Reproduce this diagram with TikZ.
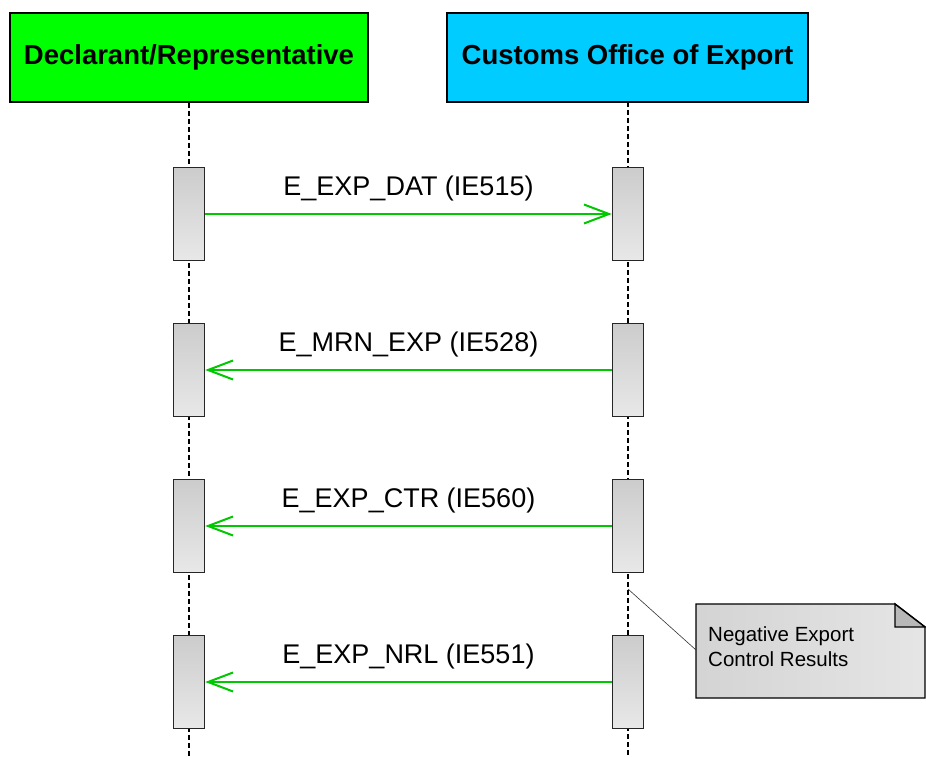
\documentclass[tikz,border=0pt]{standalone}
\usepackage{fontspec}
\setmainfont{Liberation Sans}
\usetikzlibrary{arrows.meta}

\definecolor{actorgreen}{RGB}{0,255,0}
\definecolor{actorcyan}{RGB}{0,204,255}
\definecolor{msggreen}{RGB}{0,200,0}

\tikzset{
  actor/.style={draw=black, line width=1.5pt, minimum height=89pt, inner sep=0pt,
    font=\bfseries\fontsize{27.5}{31}\selectfont},
  actbar/.style={draw=black!85, line width=1.4pt, minimum width=31pt, minimum height=93pt,
    inner sep=0pt, top color=black!20, bottom color=black!9},
  msg/.style={draw=msggreen, line width=2pt, -{Straight Barb[length=25pt,width=19pt]}},
  msglabel/.style={midway, anchor=base, yshift=19pt, inner sep=0pt, text=black,
    font=\fontsize{27}{31}\selectfont},
  lifeline/.style={line width=1.3pt, dash pattern=on 5pt off 3pt},
}

\begin{document}
\begin{tikzpicture}[x=1pt,y=-1pt]
\useasboundingbox (0,0) rectangle (926,757);

% actors
\node[actor, fill=actorgreen, minimum width=358pt] (decl) at (189,57.5) {Declarant/Representative};
\node[actor, fill=actorcyan, minimum width=361pt] (cust) at (627.5,57.5) {Customs Office of Export};

% lifelines
\coordinate (declend) at (189,757);
\coordinate (custend) at (628,757);
\draw[lifeline] (decl.south) -- (declend);
\draw[lifeline] (628,102) -- (custend);

% activation bars
\foreach \i/\y in {1/214,2/370,3/526,4/682} {
\node[actbar] (d\i) at (189,\y) {};
\node[actbar] (c\i) at (628,\y) {};
}

% messages
\draw[msg] (d1.east) -- (c1.west) node[msglabel] {E\_EXP\_DAT (IE515)};
\draw[msg] (c2.west) -- (d2.east) node[msglabel] {E\_MRN\_EXP (IE528)};
\draw[msg] (c3.west) -- (d3.east) node[msglabel] {E\_EXP\_CTR (IE560)};
\draw[msg] (c4.west) -- (d4.east) node[msglabel] {E\_EXP\_NRL (IE551)};

% note
\draw[line width=1.4pt, left color=black!17, right color=black!10]
  (696,604) -- (895,604) -- (925,627) -- (925,698) -- (696,698) -- cycle;
\draw[line width=1.4pt, fill=black!28] (895,604) -- (895,627) -- (925,627) -- cycle;
\node[anchor=north west, align=left, inner sep=0pt, font=\fontsize{20.5}{25}\selectfont]
  (note) at (708,626) {Negative Export\\Control Results};
\coordinate (notelink) at (628,589);
\coordinate (notecorner) at (696,650);
\draw[line width=0.6pt, black!80] (notelink) -- (notecorner);
\end{tikzpicture}
\end{document}
